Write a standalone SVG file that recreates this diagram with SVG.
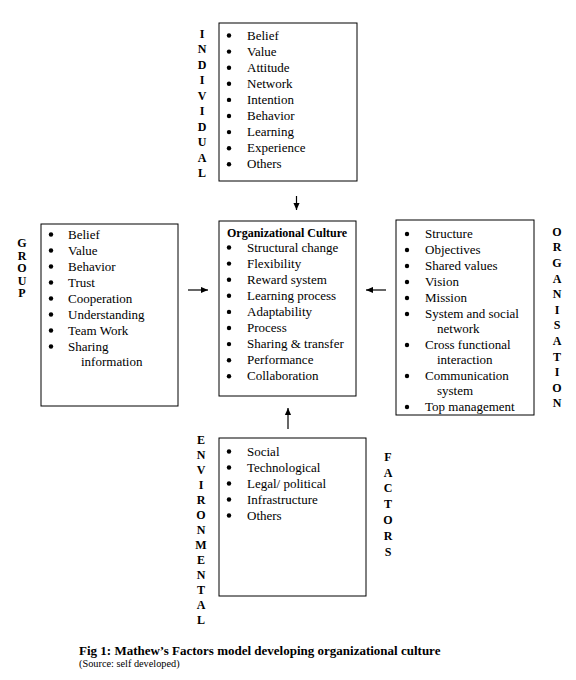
<svg xmlns="http://www.w3.org/2000/svg" width="576" height="680" viewBox="0 0 576 680">
<style>
.box{fill:#fff;stroke:#000;stroke-width:1}
.t{font-family:"Liberation Serif","Times New Roman",serif;font-size:13px;fill:#000}
.b{font-family:"Liberation Serif","Times New Roman",serif;font-size:12px;font-weight:bold;fill:#000;text-anchor:middle}
.title{font-size:12px;font-weight:bold}
.cap{font-size:13px;font-weight:bold}
.src{font-size:10.3px}
.bul{fill:#000}
.arr{stroke:#000;stroke-width:1.2;fill:none}
</style>
<defs>
<marker id="ah" viewBox="0 0 8 8" refX="8" refY="4" markerWidth="7" markerHeight="7" markerUnits="userSpaceOnUse" orient="auto">
<path d="M0,0.5 L8,4 L0,7.5 z" fill="#000"/>
</marker>
</defs>
<rect width="576" height="680" fill="#fff"/>

<g id="individual">
<rect class="box" x="219" y="23" width="138" height="158"/>
<text class="b"><tspan x="202" y="38">I</tspan><tspan x="202" dy="15.44">N</tspan><tspan x="202" dy="15.44">D</tspan><tspan x="202" dy="15.44">I</tspan><tspan x="202" dy="15.44">V</tspan><tspan x="202" dy="15.44">I</tspan><tspan x="202" dy="15.44">D</tspan><tspan x="202" dy="15.44">U</tspan><tspan x="202" dy="15.44">A</tspan><tspan x="202" dy="15.44">L</tspan></text>
<g class="bul"><circle cx="229" cy="35.5" r="2.2"/><circle cx="229" cy="51.6" r="2.2"/><circle cx="229" cy="67.7" r="2.2"/><circle cx="229" cy="83.8" r="2.2"/><circle cx="229" cy="99.9" r="2.2"/><circle cx="229" cy="116" r="2.2"/><circle cx="229" cy="132.1" r="2.2"/><circle cx="229" cy="148.2" r="2.2"/><circle cx="229" cy="164.3" r="2.2"/></g>
<text class="t"><tspan x="247" y="39.5">Belief</tspan><tspan x="247" dy="16.1">Value</tspan><tspan x="247" dy="16.1">Attitude</tspan><tspan x="247" dy="16.1">Network</tspan><tspan x="247" dy="16.1">Intention</tspan><tspan x="247" dy="16.1">Behavior</tspan><tspan x="247" dy="16.1">Learning</tspan><tspan x="247" dy="16.1">Experience</tspan><tspan x="247" dy="16.1">Others</tspan></text>
</g>

<g id="group">
<rect class="box" x="41" y="224" width="137" height="182"/>
<text class="b"><tspan x="22" y="247.3">G</tspan><tspan x="22" dy="12.5">R</tspan><tspan x="22" dy="12.5">O</tspan><tspan x="22" dy="12.5">U</tspan><tspan x="22" dy="12.5">P</tspan></text>
<g class="bul"><circle cx="51" cy="234.5" r="2.2"/><circle cx="51" cy="250.5" r="2.2"/><circle cx="51" cy="266.5" r="2.2"/><circle cx="51" cy="282.5" r="2.2"/><circle cx="51" cy="298.5" r="2.2"/><circle cx="51" cy="314.5" r="2.2"/><circle cx="51" cy="330.5" r="2.2"/><circle cx="51" cy="346.5" r="2.2"/></g>
<text class="t"><tspan x="68" y="238.5">Belief</tspan><tspan x="68" dy="16">Value</tspan><tspan x="68" dy="16">Behavior</tspan><tspan x="68" dy="16">Trust</tspan><tspan x="68" dy="16">Cooperation</tspan><tspan x="68" dy="16">Understanding</tspan><tspan x="68" dy="16">Team Work</tspan><tspan x="68" dy="16">Sharing</tspan><tspan x="81" dy="15">information</tspan></text>
</g>

<g id="culture">
<rect class="box" x="219" y="221" width="137" height="175"/>
<text class="t title" x="227" y="237">Organizational Culture</text>
<g class="bul"><circle cx="229" cy="247.5" r="2.2"/><circle cx="229" cy="263.6" r="2.2"/><circle cx="229" cy="279.7" r="2.2"/><circle cx="229" cy="295.8" r="2.2"/><circle cx="229" cy="311.9" r="2.2"/><circle cx="229" cy="328" r="2.2"/><circle cx="229" cy="344.1" r="2.2"/><circle cx="229" cy="360.2" r="2.2"/><circle cx="229" cy="376.3" r="2.2"/></g>
<text class="t"><tspan x="247" y="251.5">Structural change</tspan><tspan x="247" dy="16.1">Flexibility</tspan><tspan x="247" dy="16.1">Reward system</tspan><tspan x="247" dy="16.1">Learning process</tspan><tspan x="247" dy="16.1">Adaptability</tspan><tspan x="247" dy="16.1">Process</tspan><tspan x="247" dy="16.1">Sharing &amp; transfer</tspan><tspan x="247" dy="16.1">Performance</tspan><tspan x="247" dy="16.1">Collaboration</tspan></text>
</g>

<g id="organisation">
<rect class="box" x="396" y="220" width="138" height="195"/>
<text class="b"><tspan x="557" y="235.7">O</tspan><tspan x="557" dy="15.6">R</tspan><tspan x="557" dy="15.6">G</tspan><tspan x="557" dy="15.6">A</tspan><tspan x="557" dy="15.6">N</tspan><tspan x="557" dy="15.6">I</tspan><tspan x="557" dy="15.6">S</tspan><tspan x="557" dy="15.6">A</tspan><tspan x="557" dy="15.6">T</tspan><tspan x="557" dy="15.6">I</tspan><tspan x="557" dy="15.6">O</tspan><tspan x="557" dy="15.6">N</tspan></text>
<g class="bul"><circle cx="407" cy="234" r="2.2"/><circle cx="407" cy="250" r="2.2"/><circle cx="407" cy="266" r="2.2"/><circle cx="407" cy="282" r="2.2"/><circle cx="407" cy="298" r="2.2"/><circle cx="407" cy="314" r="2.2"/><circle cx="407" cy="345" r="2.2"/><circle cx="407" cy="376" r="2.2"/><circle cx="407" cy="407" r="2.2"/></g>
<text class="t"><tspan x="425" y="238">Structure</tspan><tspan x="425" dy="16">Objectives</tspan><tspan x="425" dy="16">Shared values</tspan><tspan x="425" dy="16">Vision</tspan><tspan x="425" dy="16">Mission</tspan><tspan x="425" dy="16">System and social</tspan><tspan x="437" dy="15">network</tspan><tspan x="425" dy="16">Cross functional</tspan><tspan x="437" dy="15">interaction</tspan><tspan x="425" dy="16">Communication</tspan><tspan x="437" dy="15">system</tspan><tspan x="425" dy="16">Top management</tspan></text>
</g>

<g id="environmental">
<rect class="box" x="219" y="438" width="147" height="158"/>
<text class="b"><tspan x="201" y="444">E</tspan><tspan x="201" dy="15">N</tspan><tspan x="201" dy="15">V</tspan><tspan x="201" dy="15">I</tspan><tspan x="201" dy="15">R</tspan><tspan x="201" dy="15">O</tspan><tspan x="201" dy="15">N</tspan><tspan x="201" dy="15">M</tspan><tspan x="201" dy="15">E</tspan><tspan x="201" dy="15">N</tspan><tspan x="201" dy="15">T</tspan><tspan x="201" dy="15">A</tspan><tspan x="201" dy="15">L</tspan></text>
<text class="b"><tspan x="388" y="460.7">F</tspan><tspan x="388" dy="15.8">A</tspan><tspan x="388" dy="15.8">C</tspan><tspan x="388" dy="15.8">T</tspan><tspan x="388" dy="15.8">O</tspan><tspan x="388" dy="15.8">R</tspan><tspan x="388" dy="15.8">S</tspan></text>
<g class="bul"><circle cx="229" cy="451.5" r="2.2"/><circle cx="229" cy="467.5" r="2.2"/><circle cx="229" cy="483.5" r="2.2"/><circle cx="229" cy="499.5" r="2.2"/><circle cx="229" cy="515.5" r="2.2"/></g>
<text class="t"><tspan x="247" y="455.5">Social</tspan><tspan x="247" dy="16">Technological</tspan><tspan x="247" dy="16">Legal/ political</tspan><tspan x="247" dy="16">Infrastructure</tspan><tspan x="247" dy="16">Others</tspan></text>
</g>

<g id="connectors">
<line class="arr" x1="296.5" y1="196" x2="296.5" y2="210" marker-end="url(#ah)"/>
<line class="arr" x1="188" y1="290" x2="208" y2="290" marker-end="url(#ah)"/>
<line class="arr" x1="386" y1="290" x2="366" y2="290" marker-end="url(#ah)"/>
<line class="arr" x1="288" y1="429" x2="288" y2="408" marker-end="url(#ah)"/>
</g>

<g id="caption">
<text class="t cap" x="79" y="655">Fig 1: Mathew’s Factors model developing organizational culture</text>
<text class="t src" x="79" y="667">(Source: self developed)</text>
</g>
</svg>
